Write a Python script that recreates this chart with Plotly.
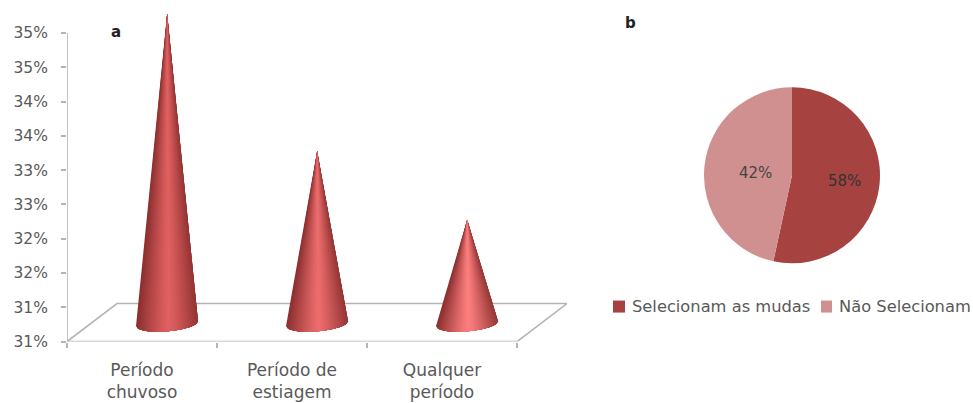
import numpy as np
import plotly.graph_objects as go

categories = ["Período<br>chuvoso", "Período de<br>estiagem", "Qualquer<br>período"]
cone_values = [35, 33, 32]
cone_highlights = ["#e26262", "#ee6e6e", "#ff8080"]
y_ticks = [30.5, 31, 31.5, 32, 32.5, 33, 33.5, 34, 34.5, 35]
y_labels = ["31%", "31%", "32%", "32%", "33%", "33%", "34%", "34%", "35%", "35%"]
pie_labels = ["Selecionam as mudas", "Não Selecionam"]
pie_wedges = [53.4, 46.6]
pie_text = ["58%", "42%"]
pie_colors = ["#a64240", "#d09090"]

AXIS = "#b4b4b4"
TEXT = "#595959"
FONT = "DejaVu Sans"
Y0, Y1 = 30.5, 35.336
DX, DY = 1 / 3, 0.555
PX_Y = 68.44

FIG_H = 413
H = FIG_H * 393.5 / 403


def fx(px):
    return px / 973


def fy(py):
    return 1 - py / H


def mix(a, b, t):
    a = np.array([int(a[i:i + 2], 16) for i in (1, 3, 5)])
    b = np.array([int(b[i:i + 2], 16) for i in (1, 3, 5)])
    c = a + (b - a) * t
    return "rgb(%d,%d,%d)" % tuple(c)


fig = go.Figure()

# floor and axis lines
fig.add_trace(go.Scatter(x=[0, DX, 3 + DX, 3, 0], y=[Y0, Y0 + DY, Y0 + DY, Y0, Y0], mode="lines",
                         line=dict(color=AXIS, width=1.6), hoverinfo="skip", showlegend=False, cliponaxis=False))
fig.add_trace(go.Scatter(x=[0, 0], y=[Y0, max(y_ticks)], mode="lines",
                         line=dict(color=AXIS, width=1.6), hoverinfo="skip", showlegend=False, cliponaxis=False))

# cones, drawn as nested shaded polygons from the outside in
N = 36
rx = 31 / 150
ry = 7.5 / PX_Y
tilt = 2.5 / PX_Y
base_y = Y0 + 0.26
c = 0.05
for i, (v, hi) in enumerate(zip(cone_values, cone_highlights)):
    cx = i + 0.5 + DX / 2
    tip = v + DY / 2
    for w in np.linspace(1.05, 0.02, N):
        us = np.linspace(max(-1, c - w), min(1, c + w), 30)
        xs = list(cx + us * rx) + [cx + c * 0.02]
        ys = list(base_y - np.sqrt(np.clip(1 - us ** 2, 0, 1)) * ry + us * tilt) + [tip]
        col = mix(hi, "#8c3030", min(1, (w / 1.05) ** 1.2))
        fig.add_trace(go.Scatter(x=xs + xs[:1], y=ys + ys[:1], mode="lines", fill="toself",
                                 fillcolor=col, line=dict(color=col, width=0),
                                 hoverinfo="skip", showlegend=False, cliponaxis=False))

fig.add_trace(go.Pie(values=pie_wedges, labels=pie_labels, textinfo="none",
                     sort=False, direction="clockwise", rotation=0,
                     marker=dict(colors=pie_colors, line=dict(width=0)),
                     domain=dict(x=[fx(704), fx(880)], y=[fy(263), fy(87)]),
                     showlegend=False))

annotations = [
    dict(text="<b>a</b>", x=fx(116), y=fy(32), xanchor="center"),
    dict(text="<b>b</b>", x=fx(630), y=fy(23), xanchor="center"),
    dict(text=pie_text[0], x=fx(844), y=fy(181), xanchor="center", font=dict(family=FONT, size=15, color="#333333")),
    dict(text=pie_text[1], x=fx(755), y=fy(173), xanchor="center", font=dict(family=FONT, size=15, color="#444444")),
    dict(text=pie_labels[0], x=fx(630), y=fy(306), xanchor="left", font=dict(family=FONT, size=16.3, color=TEXT)),
    dict(text=pie_labels[1], x=fx(837), y=fy(306), xanchor="left", font=dict(family=FONT, size=16.3, color=TEXT)),
]
for a in annotations:
    a.update(xref="paper", yref="paper", showarrow=False, yanchor="middle")
    a.setdefault("font", dict(family=FONT, size=15, color="#222222"))

shapes = [
    dict(type="rect", xref="paper", yref="paper", x0=fx(613), x1=fx(625), y0=fy(312), y1=fy(300),
         fillcolor=pie_colors[0], line_width=0),
    dict(type="rect", xref="paper", yref="paper", x0=fx(821), x1=fx(832), y0=fy(312), y1=fy(300),
         fillcolor=pie_colors[1], line_width=0),
]

fig.update_layout(
    width=973, height=FIG_H, margin=dict(l=0, r=0, t=0, b=0), autosize=False,
    paper_bgcolor="white", plot_bgcolor="white",
    font=dict(family=FONT, color=TEXT, size=15),
    annotations=annotations, shapes=shapes, showlegend=False,
    xaxis=dict(domain=[fx(67), fx(567)], range=[0, 3 + DX], tickvals=[0.5, 1.5, 2.5], ticktext=categories,
               ticks="", showgrid=False, zeroline=False, showline=False, ticklabelstandoff=16,
               tickfont=dict(size=17, color=TEXT),
               minor=dict(tickvals=[0, 1, 2, 3], ticks="outside", ticklen=5, tickcolor=AXIS, tickwidth=1.5, showgrid=False)),
    yaxis=dict(domain=[fy(341), fy(10)], range=[Y0, Y1], tickvals=y_ticks, ticktext=y_labels,
               ticks="outside", ticklen=5, tickcolor=AXIS, tickwidth=1.5, showgrid=False, zeroline=False,
               showline=False, ticklabelstandoff=10, tickfont=dict(size=15.5, color=TEXT)),
)

fig.write_html("out.html", config=dict(displayModeBar=False),
               post_script="document.body.style.margin='0';document.body.style.overflow='hidden';")
